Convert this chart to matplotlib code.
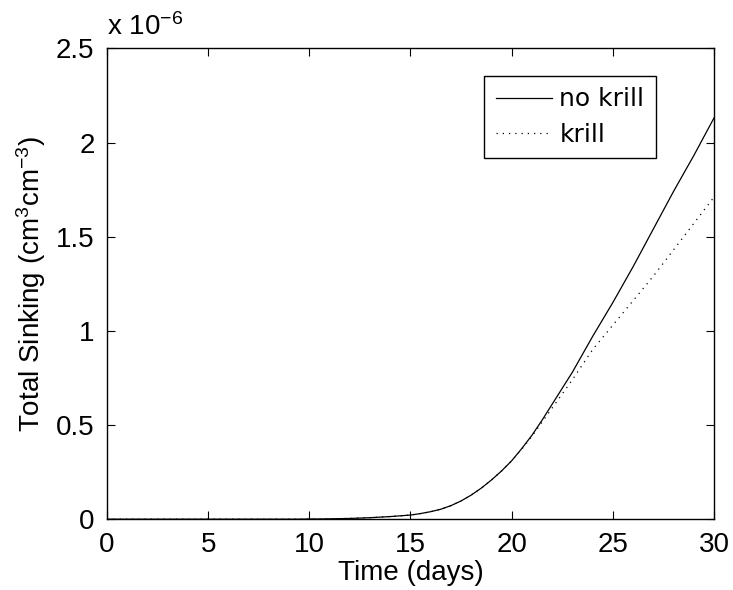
import numpy as np
import matplotlib
matplotlib.use("Agg")
import matplotlib.pyplot as plt
from matplotlib.ticker import FuncFormatter

# time axis (days, half-day steps) and total sinking in units of 1e-6 cm^3 cm^-3
days = [i * 0.5 for i in range(61)]
no_krill = [0, 0, 0, 0, 0, 0, 0, 0, 0, 0,
            0, 0, 0, 0, 0, 0, 0, 0, 0, 0,
            0.001, 0.001, 0.002, 0.003, 0.004, 0.006, 0.008, 0.011, 0.014, 0.018,
            0.022, 0.030, 0.040, 0.053, 0.072, 0.097, 0.128, 0.165, 0.208, 0.256,
            0.31, 0.375, 0.445, 0.525, 0.61, 0.695, 0.78, 0.875, 0.97, 1.06,
            1.15, 1.245, 1.34, 1.44, 1.54, 1.64, 1.74, 1.835, 1.93, 2.03, 2.13]
krill = [0, 0, 0, 0, 0, 0, 0, 0, 0, 0,
         0, 0, 0, 0, 0, 0, 0, 0, 0, 0,
         0.001, 0.001, 0.002, 0.003, 0.004, 0.006, 0.008, 0.011, 0.014, 0.018,
         0.022, 0.030, 0.040, 0.053, 0.072, 0.097, 0.128, 0.165, 0.208, 0.256,
         0.31, 0.372, 0.44, 0.515, 0.59, 0.665, 0.74, 0.82, 0.90, 0.965,
         1.03, 1.095, 1.16, 1.225, 1.29, 1.36, 1.43, 1.50, 1.57, 1.64, 1.71]
xticks = [0, 5, 10, 15, 20, 25, 30]
yticks = [0, 0.5, 1, 1.5, 2, 2.5]

plt.rcParams["font.family"] = ["Liberation Sans", "DejaVu Sans"]
plt.rcParams["mathtext.fontset"] = "custom"
plt.rcParams["mathtext.rm"] = "Liberation Sans"
plt.rcParams["mathtext.it"] = "Liberation Sans"

fig = plt.figure(figsize=(7.33, 5.90), dpi=100)
ax = fig.add_axes([0.146, 0.120, 0.828, 0.798])

ax.plot(days, no_krill, "-", color="black", lw=0.9, label="no krill")
ax.plot(days, krill, color="black", lw=0.9, ls=(0, (1, 4)), label="krill")

ax.set_xlim(0, 30)
ax.set_ylim(0, 2.5)
ax.set_xticks(xticks)
ax.set_yticks(yticks)
fmt = FuncFormatter(lambda v, p: f"{v:g}")
ax.xaxis.set_major_formatter(fmt)
ax.yaxis.set_major_formatter(fmt)
ax.tick_params(direction="in", length=6, width=0.8, labelsize=20,
               top=True, right=True, pad=9)
for s in ax.spines.values():
    s.set_linewidth(1.0)

ax.set_xlabel("Time (days)", fontsize=20, labelpad=2)
ax.set_ylabel("Total Sinking (cm$^3$cm$^{-3}$)", fontsize=20, labelpad=6)
ax.text(0.0, 1.015, "x 10$^{-6}$", transform=ax.transAxes, fontsize=20,
        ha="left", va="bottom")

leg = ax.legend(loc="upper right", bbox_to_anchor=(0.904, 0.941),
                borderaxespad=0, frameon=True, fancybox=False,
                edgecolor="black", framealpha=1,
                handlelength=2.25, handletextpad=0.3, borderpad=0.45,
                labelspacing=0.45, prop={"family": "DejaVu Sans", "size": 18})
leg.get_frame().set_linewidth(1.0)

fig.savefig("out.png", dpi=100)
